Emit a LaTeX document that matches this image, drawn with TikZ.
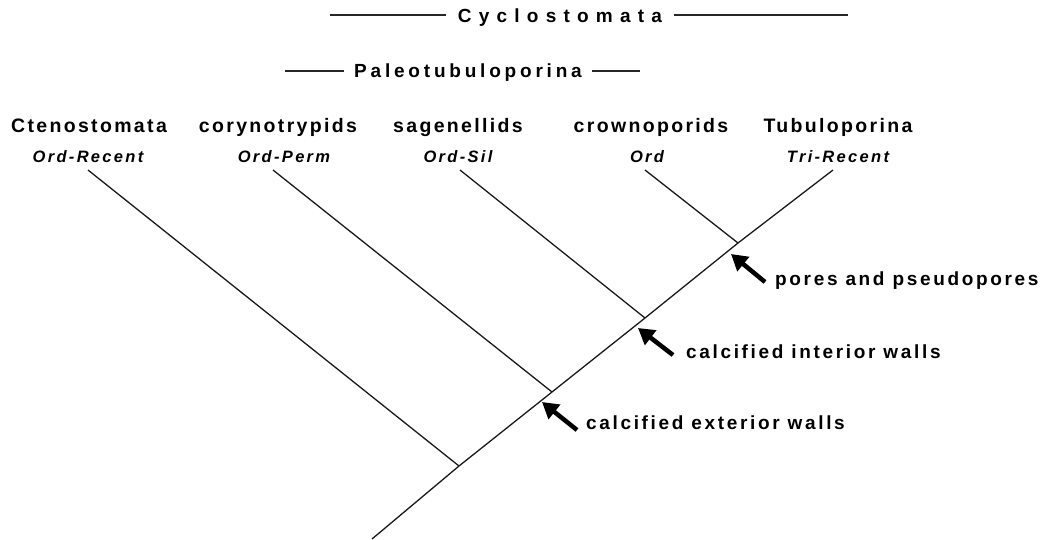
\documentclass[tikz,border=0pt]{standalone}
\usepackage{fontspec}
\usetikzlibrary{arrows.meta}
\setmainfont{Liberation Sans}
\newfontfamily\taxonfont[LetterSpace=12]{Liberation Sans}
\newfontfamily\headfont[LetterSpace=38]{Liberation Sans}
\newfontfamily\subheadfont[LetterSpace=20]{Liberation Sans}
\newfontfamily\rangefont[LetterSpace=14]{Liberation Sans}
\newfontfamily\featfont[LetterSpace=14]{Liberation Sans}
\tikzset{
  taxon/.style={anchor=base, inner sep=0pt, font=\taxonfont\bfseries\fontsize{19.5}{20}\selectfont},
  rng/.style={anchor=base, inner sep=0pt, font=\rangefont\bfseries\itshape\fontsize{16.5}{17}\selectfont},
  head/.style={anchor=base, inner sep=0pt, font=\headfont\bfseries\fontsize{19}{20}\selectfont},
  subhead/.style={anchor=base, inner sep=0pt, font=\subheadfont\bfseries\fontsize{19}{20}\selectfont},
  feat/.style={anchor=base west, inner sep=0pt, font=\featfont\bfseries\fontsize{19}{20}\selectfont},
  branch/.style={line width=1.3pt, black!90},
  rule/.style={line width=1.2pt, black!85},
  pointer/.style={line width=4.5pt, -{Triangle[length=16pt,width=18pt]}, black}
}
\begin{document}
\begin{tikzpicture}[x=1pt,y=-1pt]
\useasboundingbox (0,0) rectangle (1053,539);
% headers
\node[head] (cyc) at (560,22) {Cyclostomata};
\coordinate (cycL) at (330,15);
\coordinate (cycR) at (848,15);
\draw[rule] (cycL) -- ([xshift=-12pt]cyc.west |- cycL);
\draw[rule] ([xshift=12pt]cyc.east |- cycR) -- (cycR);
\node[subhead] (pal) at (468,77) {Paleotubuloporina};
\coordinate (palL) at (285,71);
\coordinate (palR) at (640,71);
\draw[rule] (palL) -- ([xshift=-10pt]pal.west |- palL);
\draw[rule] ([xshift=10pt]pal.east |- palR) -- (palR);
% taxa
\node[taxon] (cte) at (89,132) {Ctenostomata};
\node[taxon] (cor) at (278,132) {corynotrypids};
\node[taxon] (sag) at (458,132) {sagenellids};
\node[taxon] (cro) at (651,132) {crownoporids};
\node[taxon] (tub) at (838,132) {Tubuloporina};
\node[rng] (rcte) at (88,162) {Ord-Recent};
\node[rng] (rcor) at (284,162) {Ord-Perm};
\node[rng] (rsag) at (458,162) {Ord-Sil};
\node[rng] (rcro) at (647,162) {Ord};
\node[rng] (rtub) at (838,162) {Tri-Recent};
% tree
\coordinate (root) at (372,539);
\coordinate (j1) at (459,466);
\coordinate (j2) at (552,392);
\coordinate (j3) at (645,318);
\coordinate (j4) at (738,243);
\coordinate (t1) at (88,170);
\coordinate (t2) at (273,170);
\coordinate (t3) at (460,170);
\coordinate (t4) at (645,170);
\coordinate (t5) at (833,170);
\draw[branch] (root) -- (j1) -- (j2) -- (j3) -- (j4) -- (t5);
\draw[branch] (t1) -- (j1);
\draw[branch] (t2) -- (j2);
\draw[branch] (t3) -- (j3);
\draw[branch] (t4) -- (j4);
% characters
\coordinate (a1tail) at (577,430);
\coordinate (a1tip) at (542,402);
\coordinate (a2tail) at (673,355);
\coordinate (a2tip) at (638,328);
\coordinate (a3tail) at (765,282);
\coordinate (a3tip) at (731,254);
\draw[pointer] (a1tail) -- (a1tip);
\draw[pointer] (a2tail) -- (a2tip);
\draw[pointer] (a3tail) -- (a3tip);
\node[feat] (f1) at (586,429) {calcified exterior walls};
\node[feat] (f2) at (686,358) {calcified interior walls};
\node[feat] (f3) at (775,285) {pores and pseudopores};
\end{tikzpicture}
\end{document}
